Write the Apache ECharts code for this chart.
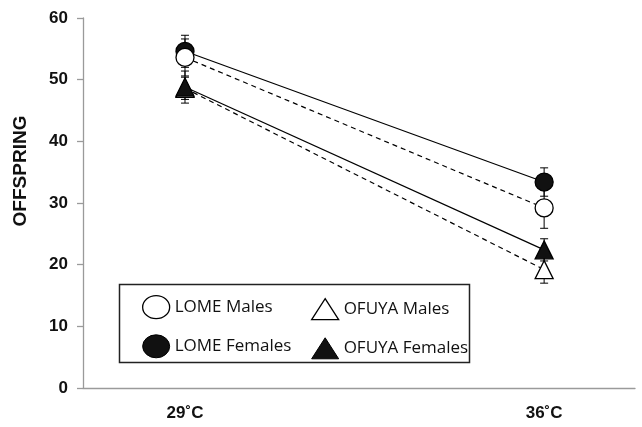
<!DOCTYPE html>
<html>
<head>
<meta charset="utf-8">
<script src="https://cdn.jsdelivr.net/npm/echarts@6/dist/echarts.min.js"></script>
<style>
html,body{margin:0;padding:0;background:#fff;}
#chart{width:642px;height:427px;}
</style>
</head>
<body>
<div id="chart"></div>
<script>
// ---- data ----
const temps = ['29˚C', '36˚C'];
const tempPos = [0, 1];
const yTicks = [0, 10, 20, 30, 40, 50, 60];
const lomeMales = [53.6, 29.2];
const lomeFemales = [54.6, 33.4];
const ofuyaMales = [48.6, 19.2];
const ofuyaFemales = [48.8, 22.4];
const lomeMalesErr = [3.0, 3.3];
const lomeFemalesErr = [2.6, 2.3];
const ofuyaMalesErr = [1.8, 2.2];
const ofuyaFemalesErr = [2.6, 1.8];

const chart = echarts.init(document.getElementById('chart'), null, {renderer: 'canvas'});

function pts(vals) { return vals.map((v, i) => [tempPos[i], v]); }
function errData(vals, errs) { return vals.map((v, i) => [tempPos[i], v - errs[i], v + errs[i]]); }

function errSeries(vals, errs) {
  return {
    type: 'custom',
    z: 1,
    silent: true,
    renderItem: function (params, api) {
      const x = api.value(0);
      const lo = api.coord([x, api.value(1)]);
      const hi = api.coord([x, api.value(2)]);
      const w = 4;
      const st = {stroke: '#000', lineWidth: 1};
      return {
        type: 'group',
        children: [
          {type: 'line', shape: {x1: lo[0], y1: lo[1], x2: hi[0], y2: hi[1]}, style: st},
          {type: 'line', shape: {x1: lo[0] - w, y1: lo[1], x2: lo[0] + w, y2: lo[1]}, style: st},
          {type: 'line', shape: {x1: hi[0] - w, y1: hi[1], x2: hi[0] + w, y2: hi[1]}, style: st}
        ]
      };
    },
    encode: {x: 0, y: [1, 2]},
    data: errData(vals, errs)
  };
}

function lineSeries(name, vals, symbol, fill, dashed, size) {
  return {
    name: name,
    type: 'line',
    z: 3,
    data: pts(vals),
    symbol: symbol,
    symbolSize: size,
    showSymbol: true,
    lineStyle: {color: '#000', width: 1.2, type: dashed ? [5, 4] : 'solid'},
    itemStyle: {color: fill, borderColor: '#000', borderWidth: 1.3},
    emphasis: {disabled: true},
    animation: false
  };
}

const ellipseIcon = 'path://M0,10a10,10 0 1,0 20,0a10,10 0 1,0 -20,0z';
const triIcon = 'path://M10,0L20,20L0,20Z';
const legendText = {fontFamily: 'Open Sans', fontSize: 17, color: '#111'};

const option = {
  animation: false,
  backgroundColor: '#fff',
  grid: {left: 83, right: 7, top: 18, bottom: 39, containLabel: false},
  xAxis: {
    type: 'value',
    min: -0.284,
    max: 1.253,
    axisLine: {show: true, onZero: false, lineStyle: {color: '#9a9a9a', width: 1.3}},
    axisTick: {show: false},
    splitLine: {show: false},
    axisLabel: {
      customValues: tempPos,
      formatter: function (v) { const i = tempPos.indexOf(v); return i >= 0 ? temps[i] : ''; },
      fontFamily: 'Liberation Sans', fontWeight: 'bold', fontSize: 17, color: '#111', margin: 17
    }
  },
  yAxis: {
    type: 'value',
    min: 0, max: 60, interval: 10,
    name: 'OFFSPRING',
    nameLocation: 'middle',
    nameGap: 53,
    nameRotate: 90,
    nameTextStyle: {fontFamily: 'Liberation Sans', fontWeight: 'bold', fontSize: 19, color: '#111', padding: [0, 0, 0, 64]},
    axisLine: {show: true, onZero: false, lineStyle: {color: '#9a9a9a', width: 1.3}},
    axisTick: {show: true, length: 6, lineStyle: {color: '#9a9a9a', width: 1.3}},
    splitLine: {show: false},
    axisLabel: {
      formatter: function (v) { return yTicks.indexOf(v) >= 0 ? String(v) : ''; },
      fontFamily: 'Liberation Sans', fontWeight: 'bold', fontSize: 17, color: '#111', margin: 15
    }
  },
  legend: [
    {
      left: 137, top: 290, orient: 'vertical', itemWidth: 27, itemHeight: 23, itemGap: 15, itemTextGap: 3,
      symbolKeepAspect: false,
      textStyle: legendText, selectedMode: false,
      data: [
        {name: 'LOME Males', icon: ellipseIcon, itemStyle: {color: '#fff', borderColor: '#000', borderWidth: 1.3}},
        {name: 'LOME Females', icon: ellipseIcon, itemStyle: {color: '#111', borderColor: '#000', borderWidth: 1}}
      ]
    },
    {
      left: 306, top: 293, orient: 'vertical', itemWidth: 27, itemHeight: 21, itemGap: 17, itemTextGap: 3,
      symbolKeepAspect: false,
      textStyle: legendText, selectedMode: false,
      data: [
        {name: 'OFUYA Males', icon: triIcon, itemStyle: {color: '#fff', borderColor: '#000', borderWidth: 1.3}},
        {name: 'OFUYA Females', icon: triIcon, itemStyle: {color: '#111', borderColor: '#000', borderWidth: 1}}
      ]
    }
  ],
  graphic: [
    {type: 'rect', left: 117, top: 282, shape: {width: 350, height: 78}, style: {fill: 'none', stroke: '#222', lineWidth: 1.5}, z: 0}
  ],
  series: [
    errSeries(lomeFemales, lomeFemalesErr),
    errSeries(lomeMales, lomeMalesErr),
    errSeries(ofuyaMales, ofuyaMalesErr),
    errSeries(ofuyaFemales, ofuyaFemalesErr),
    lineSeries('LOME Females', lomeFemales, 'circle', '#111', false, 18),
    lineSeries('LOME Males', lomeMales, 'circle', '#fff', true, 18),
    lineSeries('OFUYA Males', ofuyaMales, 'triangle', '#fff', true, 18),
    lineSeries('OFUYA Females', ofuyaFemales, 'triangle', '#111', false, 18)
  ]
};
chart.setOption(option);
</script>
</body>
</html>
